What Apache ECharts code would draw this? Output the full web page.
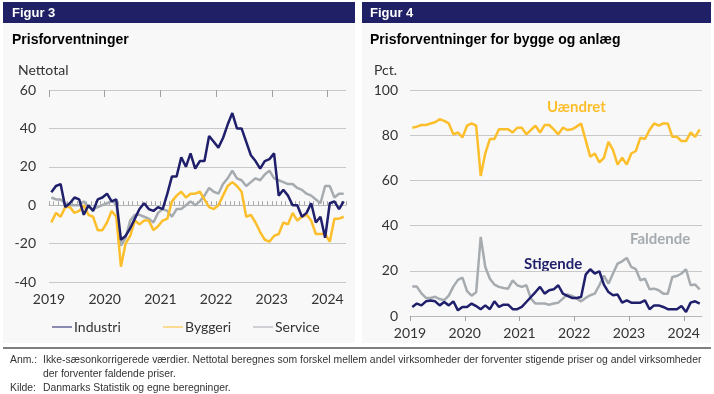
<!DOCTYPE html>
<html><head><meta charset="utf-8">
<script src="https://cdn.jsdelivr.net/npm/echarts@6/dist/echarts.min.js"></script>
<style>html,body{margin:0;padding:0;background:#fff}#c{width:714px;height:394px}</style>
</head><body><div id="c"></div>
<script>
// ---------- DATA ----------
const startYear = 2019;
const yearTickMonths = [0, 12, 24, 36, 48, 60];   // month index of each year label
// Figur 3: Prisforventninger (nettotal), monthly Jan 2019 - Apr 2024
const industri = [6.7,10,11,-1,1,4,3,-5,0,-3,3,4,6,2,3,-18,-16,-12,-7,-2,1,-2,-3,-1,-2,6,15,15,25,20,27,19,23,23,36,33,30,35,42,48,40,40,33,26,23,19,23,24,27,5,8,5,0,0,-6,-4,1,-9,-6,-17,1,2,-2,2];
const byggeri = [-9,-4,-6,-1,-1,-4,-3,0,-5,-6,-13,-13,-9,-3,-6,-32,-20,-16,-8,-10,-8,-8,-13,-11,-8,-7,2,5,7,4,6,6,7,3,-1,-2,0,5,10,12,10,7,-6,-5,-9,-14,-18,-19,-16,-15,-9,-10,-4,-8,-6,-5,-8,-15,-15,-15,-19,-7,-7,-6];
const service = [4,3,3,1,0,0,0,2,-1,-2,-1,0,1,2,1,-21,-17,-8,-5,-5,-6,-7,-9,-4,-2,-3,-6,-2,-2,0,2,0,2,5,9,7,6,11,14,18,14,13,10,12,14,13,16,18,14,13,12,11,11,9,8,6,5,3,1,10,10,4,6,6];
// Figur 4: Prisforventninger for bygge og anlæg (pct.)
const uaendret = [83.3,83.8,84.5,84.5,85.2,85.7,87.1,86.3,85.2,80.4,81.2,79,84.2,85.2,84.2,62,72,78.3,78.3,82.6,82.6,82.6,81.2,83.3,83.3,80.4,82.3,84.2,81.2,84.5,84.5,82.6,80.4,83.3,82.3,82.6,83.8,85.2,77.8,70.5,71.9,68,70,77.1,73.4,67,70,67,71.9,73,78.9,78.3,82.3,85.2,84.2,85.2,85.2,79.3,79.3,77.4,77.4,81.2,79.3,82.6];
const stigende = [4,5.5,4.7,6.5,6.9,6.5,4.7,6.2,4.7,6.5,2.5,4,4,5.5,4.4,3,4.7,3,6.5,4,5,5,3,3,4,6.2,8.4,10.6,12.9,9.9,11.4,11.8,13.6,9.9,8.9,8,8,8.4,18.3,20.7,18.8,19.8,13.9,10.6,9.2,9.5,5.9,6.9,5.9,5.9,5.9,6.9,3,4.7,4.7,4,3,3,3,4.4,1.8,5.9,6.5,5.5];
const faldende = [13,13,10,8,8,8.5,7.5,7,9,13,16,17,11,9,10.5,35,21.7,16.5,13.9,12.9,12.4,12.1,15.8,13.6,12.9,13.6,7.7,5.5,5.5,5.5,5,5.5,5.9,7.7,9.5,8.9,7.7,6.5,8,9.2,9.9,13.6,17.9,14.3,18.8,23.2,24.2,25.7,21.7,20.7,15.8,16.5,11.8,12.1,11.4,9.9,9.9,17.3,17.7,18.8,20.7,13.6,13.9,11.8];
const leftYTicks = {min: -40, max: 60, step: 20};
const rightYTicks = {min: 0, max: 100, step: 20};

// ---------- STYLE ----------
const NAVY = '#1f1f6b', YELLOW = '#fcbf2b', GRAY = '#a6abb0';
const FONT = 'Lato';
const LBL = '#333';
const nMonths = 64;
const pts = arr => arr.map((v, i) => [i + 0.5, v]);   // plotted mid-month
const yearFmt = v => (v % 12 === 0 ? String(startYear + v / 12) : '');
const FOOT = '10.4px "Liberation Sans", Arial';

const chart = echarts.init(document.getElementById('c'), null, {renderer: 'canvas'});

function xMain(grid, opts) {
  return Object.assign({
    type: 'value', gridIndex: grid, min: 0, max: nMonths,
    splitLine: {show: false},
    axisLabel: {customValues: yearTickMonths, formatter: yearFmt, color: LBL, fontFamily: FONT, fontSize: 14, margin: 10},
  }, opts);
}

const option = {
  animation: false,
  backgroundColor: '#ffffff',
  graphic: [
    // panels
    {type: 'rect', shape: {x: 3, y: 22, width: 352, height: 321}, style: {fill: '#f8f8f8'}, z: -10, silent: true},
    {type: 'rect', shape: {x: 362, y: 22, width: 349, height: 321}, style: {fill: '#f8f8f8'}, z: -10, silent: true},
    {type: 'rect', shape: {x: 3, y: 2, width: 352, height: 21}, style: {fill: '#1f2066'}, z: -5},
    {type: 'rect', shape: {x: 362, y: 2, width: 349, height: 21}, style: {fill: '#1f2066'}, z: -5},
    {type: 'text', x: 12, y: 13, style: {text: 'Figur 3', fill: '#fff', font: 'bold 13px "Liberation Sans", Arial', textVerticalAlign: 'middle'}},
    {type: 'text', x: 370, y: 13, style: {text: 'Figur 4', fill: '#fff', font: 'bold 13px "Liberation Sans", Arial', textVerticalAlign: 'middle'}},
    {type: 'text', x: 12, y: 40, style: {text: 'Prisforventninger', fill: '#000', font: 'bold 14px "Liberation Sans", Arial', textVerticalAlign: 'middle'}},
    {type: 'text', x: 370, y: 40, style: {text: 'Prisforventninger for bygge og anlæg', fill: '#000', font: 'bold 14px "Liberation Sans", Arial', textVerticalAlign: 'middle'}},
    // axis names
    {type: 'text', x: 18, y: 70, style: {text: 'Nettotal', fill: LBL, font: '14px Lato', textVerticalAlign: 'middle'}},
    {type: 'text', x: 374, y: 70, style: {text: 'Pct.', fill: LBL, font: '14px Lato', textVerticalAlign: 'middle'}},
    // series labels (right)
    {type: 'text', x: 547, y: 107, style: {text: 'Uændret', fill: YELLOW, font: 'bold 15px Lato', textVerticalAlign: 'middle'}},
    {type: 'text', x: 630, y: 239, style: {text: 'Faldende', fill: GRAY, font: 'bold 15px Lato', textVerticalAlign: 'middle'}},
    {type: 'text', x: 524, y: 264, style: {text: 'Stigende', fill: NAVY, font: 'bold 15px Lato', textVerticalAlign: 'middle'}},
    // footer
    {type: 'line', shape: {x1: 3, y1: 348, x2: 711, y2: 348}, style: {stroke: '#000', lineWidth: 1.2}},
    {type: 'text', x: 10, y: 360, style: {text: 'Anm.:', fill: '#333', font: FOOT, textVerticalAlign: 'middle'}},
    {type: 'text', x: 43, y: 360, style: {text: 'Ikke-sæsonkorrigerede værdier. Nettotal beregnes som forskel mellem andel virksomheder der forventer stigende priser og andel virksomheder', fill: '#333', font: FOOT, textVerticalAlign: 'middle'}},
    {type: 'text', x: 43, y: 374, style: {text: 'der forventer faldende priser.', fill: '#333', font: FOOT, textVerticalAlign: 'middle'}},
    {type: 'text', x: 10, y: 388, style: {text: 'Kilde:', fill: '#333', font: FOOT, textVerticalAlign: 'middle'}},
    {type: 'text', x: 43, y: 388, style: {text: 'Danmarks Statistik og egne beregninger.', fill: '#333', font: FOOT, textVerticalAlign: 'middle'}}
  ],
  grid: [
    {left: 49, right: 368, top: 90, bottom: 112},
    {left: 410, right: 12, top: 90, bottom: 78}
  ],
  legend: [
    {data: ['Industri'], left: 47, top: 315},
    {data: ['Byggeri'], left: 158, top: 315},
    {data: ['Service'], left: 248, top: 315}
  ].map(l => Object.assign(l, {itemWidth: 20, itemHeight: 10, itemGap: 2, icon: 'path://M0,4.5L20,4.5L20,5.5L0,5.5Z',
     textStyle: {color: LBL, fontFamily: FONT, fontSize: 14, padding: [0, 0, 0, -3]}})),
  xAxis: [
    // left: monthly minor ticks
    xMain(0, {interval: 1, axisLine: {show: true, lineStyle: {color: '#b8b8b8', width: 1}},
      axisTick: {show: true, inside: true, length: 4, lineStyle: {color: '#a8a8a8'}}}),
    // left: year ticks
    xMain(0, {interval: 12, axisLine: {show: false}, axisLabel: {show: false},
      axisTick: {show: true, inside: true, length: 7, customValues: yearTickMonths, lineStyle: {color: '#a0a0a0'}}}),
    // right
    xMain(1, {interval: 12, axisLine: {show: true, lineStyle: {color: '#b8b8b8', width: 1}},
      axisTick: {show: true, inside: false, length: 5, customValues: yearTickMonths, lineStyle: {color: '#a0a0a0'}}})
  ],
  yAxis: [
    {type: 'value', gridIndex: 0, min: leftYTicks.min, max: leftYTicks.max, interval: leftYTicks.step,
      axisLine: {show: false}, axisTick: {show: false},
      axisLabel: {color: LBL, fontFamily: FONT, fontSize: 14, margin: 13},
      splitLine: {lineStyle: {color: '#c8c8c8', width: 1}}},
    {type: 'value', gridIndex: 1, min: rightYTicks.min, max: rightYTicks.max, interval: rightYTicks.step,
      axisLine: {show: false}, axisTick: {show: false},
      axisLabel: {color: LBL, fontFamily: FONT, fontSize: 14, margin: 12},
      splitLine: {lineStyle: {color: '#c8c8c8', width: 1}}}
  ],
  series: [
    {name: 'Service', type: 'line', xAxisIndex: 0, yAxisIndex: 0, data: pts(service), color: GRAY, z: 2},
    {name: 'Byggeri', type: 'line', xAxisIndex: 0, yAxisIndex: 0, data: pts(byggeri), color: YELLOW, z: 3},
    {name: 'Industri', type: 'line', xAxisIndex: 0, yAxisIndex: 0, data: pts(industri), color: NAVY, z: 4},
    {name: 'Faldende', type: 'line', xAxisIndex: 2, yAxisIndex: 1, data: pts(faldende), color: GRAY, z: 2},
    {name: 'Stigende', type: 'line', xAxisIndex: 2, yAxisIndex: 1, data: pts(stigende), color: NAVY, z: 3},
    {name: 'Uændret', type: 'line', xAxisIndex: 2, yAxisIndex: 1, data: pts(uaendret), color: YELLOW, z: 3}
  ].map(s => Object.assign(s, {symbol: 'none', lineStyle: {width: 2.5, color: s.color}, itemStyle: {color: s.color}}))
};
chart.setOption(option);
</script></body></html>
